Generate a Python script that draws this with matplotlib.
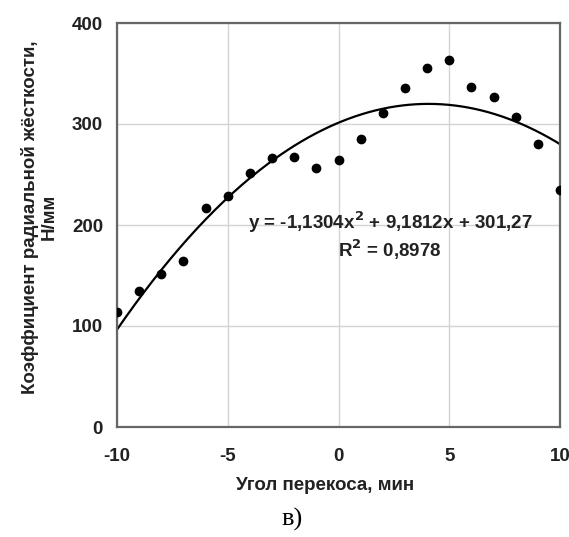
import numpy as np
import matplotlib.pyplot as plt

# Данные с графика
angle = [-10, -9, -8, -7, -6, -5, -4, -3, -2, -1, 0, 1, 2, 3, 4, 5, 6, 7, 8, 9, 10]
stiffness = [114, 135, 151, 164, 217, 229, 251, 266, 267, 256, 264, 285, 311, 336, 355, 363, 337, 327, 307, 280, 235]

# Коэффициенты полиномиальной линии тренда (как в подписи)
coef = [-1.1304, 9.1812, 301.27]
r2_text = "0,8978"

x_ticks = [-10, -5, 0, 5, 10]
y_ticks = [0, 100, 200, 300, 400]

plt.rcParams['font.family'] = ['Liberation Sans', 'DejaVu Sans']
plt.rcParams['font.weight'] = 'bold'
plt.rcParams['axes.unicode_minus'] = False

fs = 13.5

fig = plt.figure(figsize=(5.69, 5.37), dpi=100)
ax = fig.add_axes([117 / 569, 1 - 427 / 537, 443 / 569, 404 / 537])

ax.grid(True, color='#d4d4d4', linewidth=1.0)
ax.set_axisbelow(True)

ax.plot(angle, stiffness, 'o', color='black', markersize=6, zorder=3)

xs = np.linspace(-10, 10, 200)
ax.plot(xs, np.polyval(coef, xs), color='black', linewidth=1.6, zorder=2)

ax.set_xlim(-10, 10)
ax.set_ylim(0, 400)
ax.set_xticks(x_ticks)
ax.set_yticks(y_ticks)
ax.tick_params(axis='x', length=0, pad=15, labelsize=fs, colors='#222222')
ax.tick_params(axis='y', length=0, pad=10, labelsize=fs, colors='#222222')
for lbl in ax.get_xticklabels() + ax.get_yticklabels():
    lbl.set_fontweight('bold')
for s in ax.spines.values():
    s.set_color('#666666')
    s.set_linewidth(1.6)

ax.text(2.33, 203, "y = -1,1304x$^{2}$ + 9,1812x + 301,27", ha='center', va='center',
        fontsize=fs, fontweight='bold', color='#222222')
ax.text(2.33, 175, "R$^{2}$ = " + r2_text, ha='center', va='center',
        fontsize=fs, fontweight='bold', color='#222222')

fig.text(39 / 569, 1 - 217 / 537, "Коэффициент радиальной жёсткости,\nН/мм",
         rotation=90, ha='center', va='center', multialignment='center',
         fontsize=fs, fontweight='bold', color='#222222', linespacing=1.15)
fig.text(325 / 569, 1 - 485 / 537, "Угол перекоса, мин", ha='center', va='center',
         fontsize=fs, fontweight='bold', color='#222222')
fig.text(292 / 569, 1 - 519 / 537, "в)", ha='center', va='center',
         fontsize=19, family='Liberation Serif', fontweight='normal', color='black')

fig.savefig('out.png', dpi=100)
